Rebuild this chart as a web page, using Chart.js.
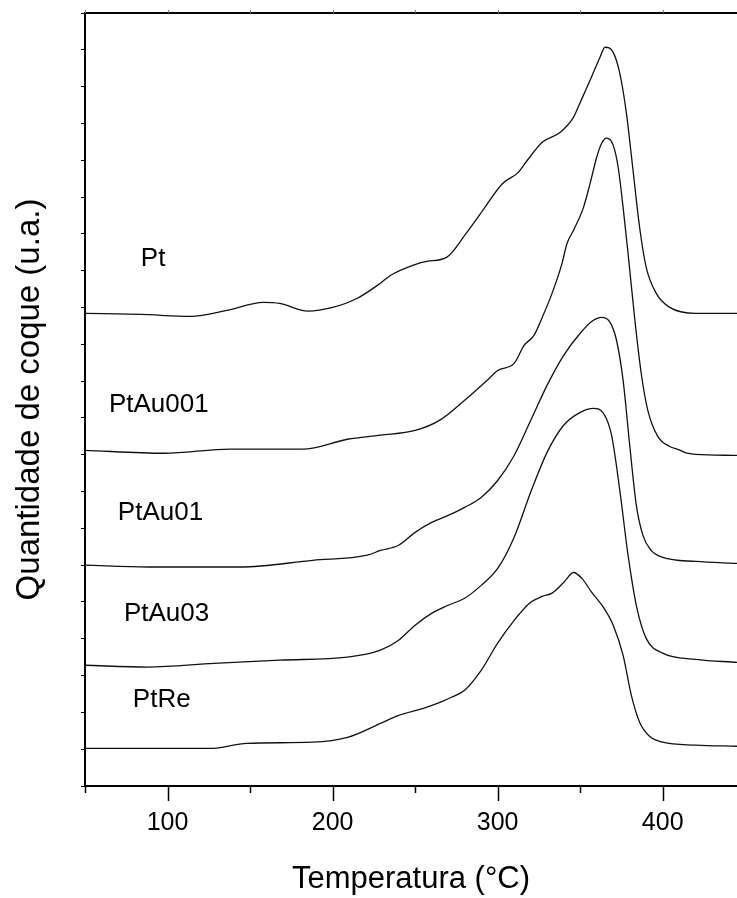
<!DOCTYPE html>
<html>
<head>
<meta charset="utf-8">
<script src="https://cdn.jsdelivr.net/npm/chart.js@4.4.0/dist/chart.umd.min.js"></script>
<style>
  html, body { margin: 0; padding: 0; background: #fff; }
  canvas { display: block; }
</style>
</head>
<body>
<canvas id="tpo" width="737" height="898"></canvas>
<script>
const FONT = '"Liberation Sans", Arial, sans-serif';

const X_MIN = 50;
const X_MAX = 445;

// TPO profiles, each curve already shifted up to its own baseline (u.a.)
const ptTemp   = [50, 84, 114, 136, 158, 168, 185, 200, 215, 229, 235, 249, 257, 269, 281, 291, 303, 312, 318, 327, 338, 346, 350, 356, 362, 365, 370, 374, 378, 382, 386, 390, 396, 404, 420, 445];
const ptSignal = [128.4, 128.1, 127.6, 129.2, 131.4, 131.1, 129.0, 130.0, 132.5, 136.6, 138.7, 141.5, 142.5, 143.6, 150.2, 156.4, 163.7, 166.5, 170.0, 174.9, 177.6, 181.7, 185.7, 191.7, 198.0, 200.7, 199.3, 193.6, 182.8, 167.3, 151.8, 140.9, 133.9, 130.1, 128.4, 128.4];

const au001Temp   = [50, 98, 138, 182, 209, 229, 250, 265, 280, 295, 300, 310, 316, 322, 327, 333, 339, 342, 346, 352, 356, 360, 363, 366, 370, 373, 376, 379, 383, 387, 391, 397, 404, 410, 414, 420, 445];
const au001Signal = [91.2, 90.4, 91.5, 91.5, 94.2, 95.3, 96.6, 99.4, 104.8, 110.8, 112.9, 114.8, 119.7, 122.4, 127.3, 133.9, 142.0, 147.4, 151.0, 157.2, 163.7, 170.8, 174.6, 176.0, 174.1, 168.1, 157.2, 144.7, 127.1, 112.0, 102.0, 95.0, 92.3, 91.3, 90.5, 90.1, 89.8];

const au01Temp   = [50, 88, 144, 188, 221, 229, 240, 250, 260, 270, 280, 290, 300, 310, 320, 330, 340, 350, 357, 363, 368, 372, 376, 380, 384, 388, 393, 400, 420, 445];
const au01Signal = [60.0, 59.5, 59.5, 61.3, 62.7, 64.0, 65.4, 68.9, 71.6, 73.5, 75.7, 78.4, 83.0, 89.8, 99.3, 108.9, 117.0, 123.0, 126.2, 127.3, 126.0, 121.1, 110.2, 92.6, 76.3, 68.1, 64.0, 62.1, 61.0, 60.5];

const au03Temp   = [50, 88, 128, 168, 209, 229, 240, 250, 260, 270, 280, 290, 300, 310, 320, 330, 340, 350, 358, 364, 369, 374, 379, 384, 390, 400, 420, 445];
const au03Signal = [32.8, 32.3, 33.3, 34.2, 35.0, 36.9, 39.6, 43.7, 46.9, 49.1, 51.0, 54.5, 59.1, 67.6, 79.8, 90.7, 98.0, 101.5, 102.6, 101.3, 95.3, 80.3, 62.7, 49.1, 40.1, 36.1, 34.4, 33.6];

const reTemp   = [50, 126, 148, 188, 209, 229, 240, 255, 265, 272, 280, 290, 300, 310, 320, 327, 333, 340, 346, 351, 357, 364, 370, 376, 381, 386, 392, 400, 420, 445];
const reSignal = [10.2, 10.2, 11.6, 11.9, 13.2, 17.0, 19.2, 21.1, 22.7, 24.1, 26.0, 31.4, 38.8, 45.0, 49.9, 51.5, 52.4, 55.3, 58.0, 56.4, 52.6, 48.6, 43.7, 35.5, 24.6, 17.3, 13.5, 11.9, 11.1, 10.8];

const sampleNames = ["Pt", "PtAu001", "PtAu01", "PtAu03", "PtRe"];
// name tags sit to the left, above each baseline (temperature, level)
const nameTemp  = [83.8, 64.5, 69.9, 73.6, 79.0];
const nameLevel = [141.2, 101.5, 72.2, 44.7, 21.4];

const zip = (xs, ys) => xs.map((x, i) => ({ x, y: ys[i] }));

const curves = [
  zip(ptTemp, ptSignal),
  zip(au001Temp, au001Signal),
  zip(au01Temp, au01Signal),
  zip(au03Temp, au03Signal),
  zip(reTemp, reSignal),
];

// top frame line, x tick marks (long at 100s, short at 50s)
const frameTicks = {
  id: "frameTicks",
  afterDraw(chart) {
    const { ctx, chartArea: a, scales: { x } } = chart;
    ctx.save();
    ctx.strokeStyle = "#000";
    ctx.lineWidth = 2;
    ctx.beginPath();
    ctx.moveTo(a.left - 1, a.top);
    ctx.lineTo(a.right, a.top);
    ctx.stroke();

    ctx.lineWidth = 1.5;
    for (let t = X_MIN; t <= X_MAX; t += 50) {
      const px = Math.round(x.getPixelForValue(t)) + 0.5;
      const len = t % 100 === 0 ? 15 : 7;
      ctx.beginPath();
      ctx.moveTo(px, a.bottom);
      ctx.lineTo(px, a.bottom + len);
      ctx.stroke();
    }
    ctx.lineWidth = 1;
    ctx.strokeStyle = "#777";
    for (let t = X_MIN; t <= X_MAX; t += 50) {
      const px = Math.round(x.getPixelForValue(t)) + 0.5;
      ctx.beginPath();
      ctx.moveTo(px, a.top);
      ctx.lineTo(px, a.top - 3);
      ctx.stroke();
    }
    ctx.restore();
  }
};

const sampleTags = {
  id: "sampleTags",
  afterDatasetsDraw(chart) {
    const { ctx, scales: { x, y } } = chart;
    ctx.save();
    ctx.fillStyle = "#000";
    ctx.font = "26px " + FONT;
    ctx.textAlign = "left";
    ctx.textBaseline = "alphabetic";
    sampleNames.forEach((name, i) => {
      ctx.fillText(name, x.getPixelForValue(nameTemp[i]), y.getPixelForValue(nameLevel[i]));
    });
    ctx.restore();
  }
};

new Chart(document.getElementById("tpo"), {
  type: "line",
  data: {
    datasets: curves.map((pts, i) => ({
      label: sampleNames[i],
      data: pts,
      borderColor: "#111",
      borderWidth: 1.3,
      pointRadius: 0,
      fill: false,
      cubicInterpolationMode: "monotone",
    })),
  },
  options: {
    responsive: false,
    animation: false,
    events: [],
    layout: { autoPadding: false, padding: { top: 13, right: 0, bottom: 0, left: 0 } },
    plugins: { legend: { display: false }, tooltip: { enabled: false } },
    scales: {
      x: {
        type: "linear",
        min: X_MIN,
        max: X_MAX,
        grid: { display: false, drawTicks: false },
        border: { display: true, color: "#000", width: 2 },
        ticks: {
          stepSize: 50,
          autoSkip: false,
          maxRotation: 0,
          padding: 22,
          color: "#000",
          font: { size: 25, family: FONT },
          callback: v => (v % 100 === 0 ? String(v) : ""),
        },
        title: {
          display: true,
          text: "Temperatura (°C)",
          color: "#000",
          font: { size: 31, family: FONT },
          padding: { top: 0, bottom: 0 },
        },
        afterFit: s => {
          s.height = 112;
          s.paddingLeft = 0;
          s.paddingRight = 0;
        },
      },
      y: {
        min: 0,
        max: 210,
        grid: { drawOnChartArea: false, drawTicks: true, tickLength: 4, color: "#000", lineWidth: 1 },
        border: { display: true, color: "#000", width: 2 },
        ticks: { display: false, stepSize: 10 },
        title: {
          display: true,
          text: "Quantidade de coque (u.a.)",
          color: "#000",
          font: { size: 33, family: FONT },
          padding: { top: 10, bottom: 0 },
        },
        afterFit: s => {
          s.width = 85;
          s.paddingTop = 0;
          s.paddingBottom = 0;
        },
      },
    },
  },
  plugins: [frameTicks, sampleTags],
});
</script>
</body>
</html>
